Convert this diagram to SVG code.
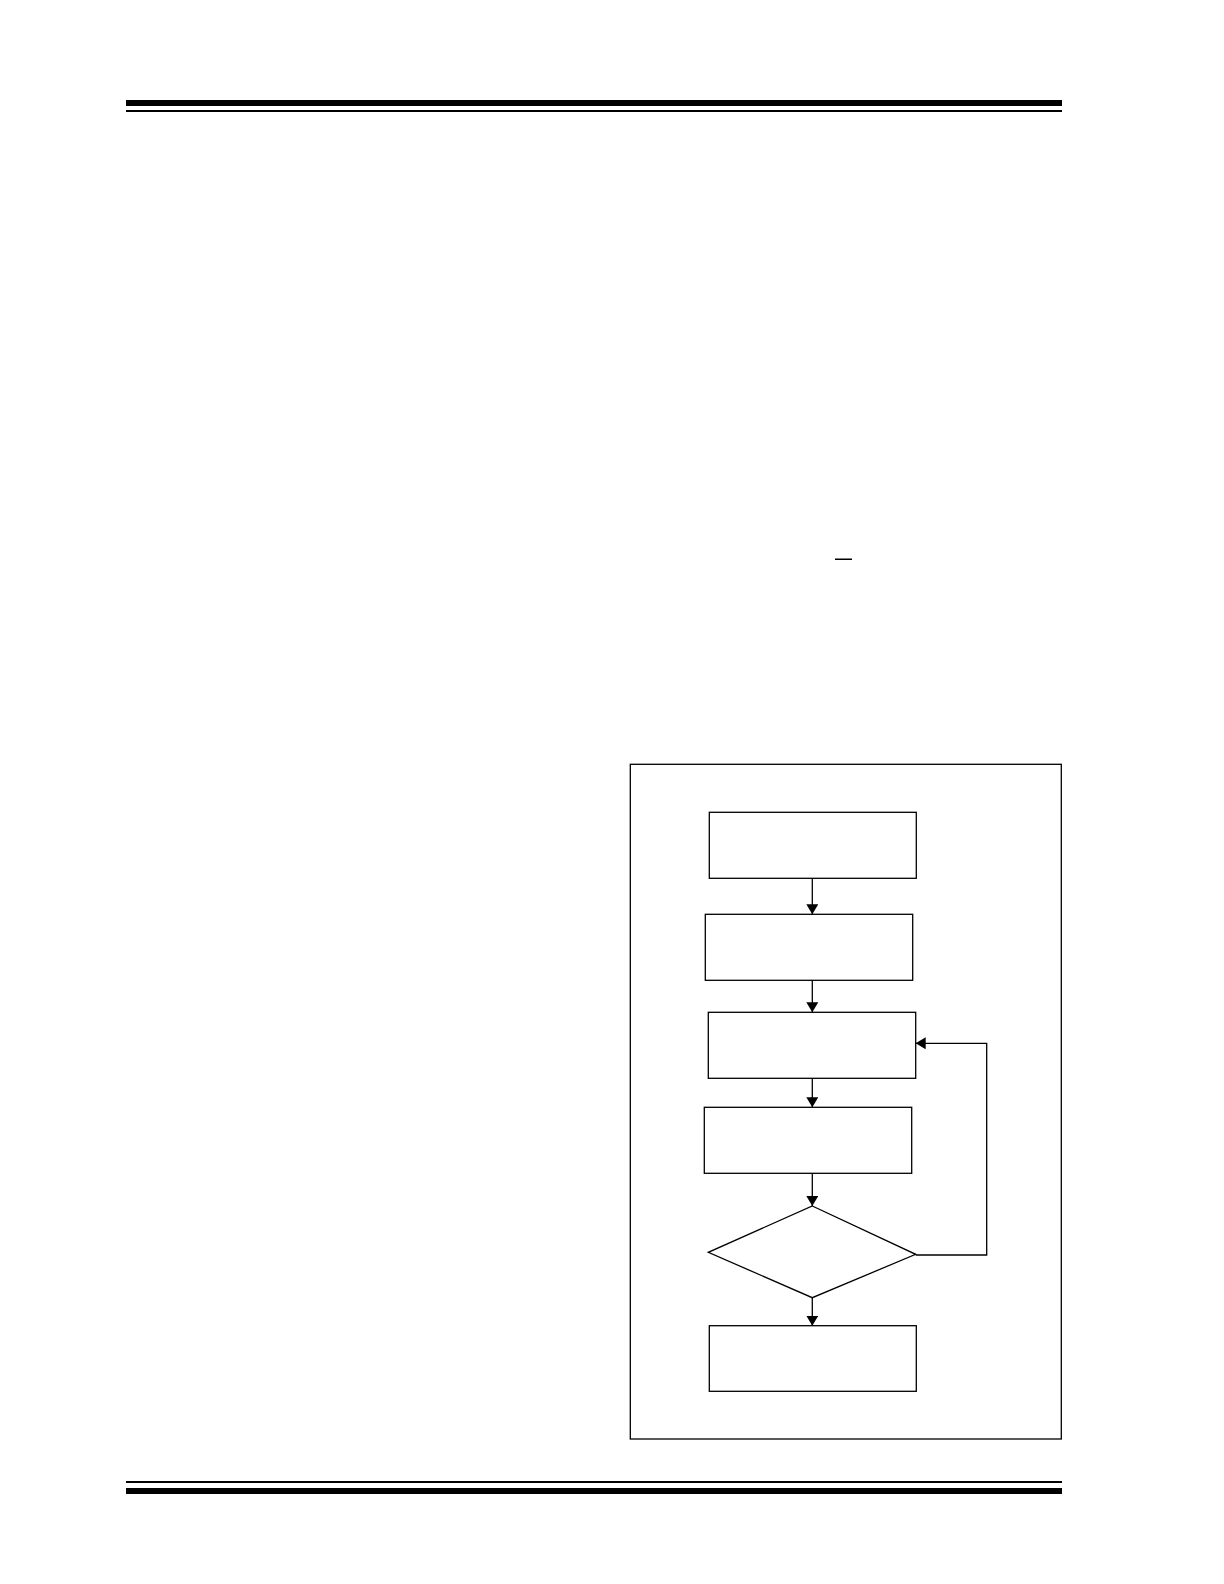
<svg xmlns="http://www.w3.org/2000/svg" width="1224" height="1584" viewBox="0 0 1224 1584">
  <style>
    .box { fill: #ffffff; stroke: #000000; stroke-width: 1.3; }
    .conn { fill: none; stroke: #000000; stroke-width: 1.3; marker-end: url(#arrow); }
    .rule { fill: #000000; stroke: none; }
  </style>
  <defs>
    <marker id="arrow" markerUnits="userSpaceOnUse" markerWidth="11" markerHeight="12" refX="10" refY="6" orient="auto">
      <path d="M0,0 L10,6 L0,12 z" fill="#000000"/>
    </marker>
  </defs>
  <rect width="1224" height="1584" fill="#ffffff"/>

  <g id="header">
    <rect class="rule" x="126" y="100" width="936" height="6"/>
    <rect class="rule" x="126" y="110" width="936" height="2"/>
  </g>

  <g id="overline">
    <rect class="rule" x="835" y="558.5" width="17" height="1.5"/>
  </g>

  <g id="frame">
    <rect x="630.3" y="764.3" width="431" height="674.7" fill="none" stroke="#000000" stroke-width="1.3"/>
  </g>

  <g id="node1"><rect class="box" x="709.3" y="812.3" width="207" height="66"/></g>
  <g id="node2"><rect class="box" x="705.3" y="914.3" width="207.4" height="66"/></g>
  <g id="node3"><rect class="box" x="708.3" y="1012.3" width="207.4" height="66"/></g>
  <g id="node4"><rect class="box" x="704.3" y="1107.3" width="207.4" height="66"/></g>
  <g id="decision"><polygon class="box" points="812.3,1206 915.7,1254.3 812.3,1297.7 708.3,1252.3"/></g>
  <g id="node5"><rect class="box" x="709.3" y="1325.7" width="207" height="65.6"/></g>

  <g id="connectors">
    <line class="conn" x1="812.3" y1="878.3" x2="812.3" y2="914.3"/>
    <line class="conn" x1="812.3" y1="980.3" x2="812.3" y2="1012.3"/>
    <line class="conn" x1="812.3" y1="1078.3" x2="812.3" y2="1107.3"/>
    <line class="conn" x1="812.3" y1="1173.3" x2="812.3" y2="1206"/>
    <line class="conn" x1="812.3" y1="1297.7" x2="812.3" y2="1325.7"/>
    <polyline class="conn" points="915.7,1255 986.7,1255 986.7,1043.3 915.7,1043.3"/>
  </g>

  <g id="footer">
    <rect class="rule" x="126" y="1481" width="936" height="2"/>
    <rect class="rule" x="126" y="1488" width="936" height="6"/>
  </g>
</svg>
